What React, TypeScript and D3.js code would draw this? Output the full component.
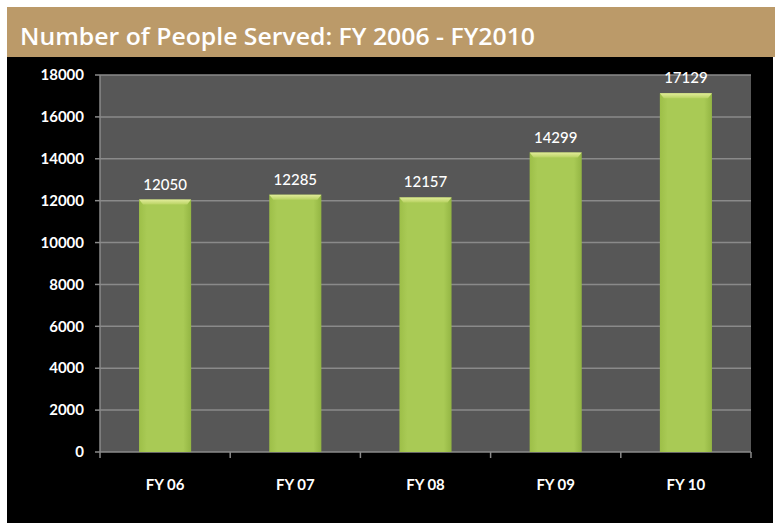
import React from "react";
import * as d3 from "d3";

const categories = ["FY 06", "FY 07", "FY 08", "FY 09", "FY 10"];
const values = [12050, 12285, 12157, 14299, 17129];
const yTicks = [0, 2000, 4000, 6000, 8000, 10000, 12000, 14000, 16000, 18000];
const title = "Number of People Served: FY 2006 - FY2010";

export default function App() {
  const W = 775, H = 523;
  const plot = { left: 100, right: 751, top: 75, bottom: 452 };
  const x = d3.scaleBand<string>().domain(categories).range([plot.left, plot.right]).paddingInner(0.6).paddingOuter(0.3);
  const xb = d3.scaleBand<string>().domain(categories).range([plot.left, plot.right]);
  const y = d3.scaleLinear().domain([0, 18000]).range([plot.bottom, plot.top]);
  const font = "Lato, 'Open Sans', sans-serif";
  return (
    <svg width={W} height={H} style={{ position: "absolute", left: 0, top: 0 }}>
      <defs>
        <linearGradient id="barG" x1="0" x2="1" y1="0" y2="0">
          <stop offset="0" stopColor="#9dbf48" />
          <stop offset="0.15" stopColor="#a9ca55" />
          <stop offset="0.85" stopColor="#a9ca55" />
          <stop offset="1" stopColor="#93b543" />
        </linearGradient>
        <linearGradient id="capG" x1="0" x2="0" y1="0" y2="1">
          <stop offset="0" stopColor="#e2ec9a" />
          <stop offset="1" stopColor="#b8d262" />
        </linearGradient>
      </defs>
      <rect x={0} y={0} width={W} height={H} fill="#ffffff" />
      <rect x={7} y={7} width={W - 7} height={50} fill="#bb9a69" />
      <text x={20} y={44.5} fill="#ffffff" fontFamily="'Open Sans', sans-serif" fontSize={24} fontWeight={600} textLength={515} lengthAdjust="spacingAndGlyphs">{title}</text>
      <rect x={7} y={57} width={766} height={H - 57} fill="#000000" />
      <rect x={plot.left} y={plot.top} width={plot.right - plot.left} height={plot.bottom - plot.top} fill="#575757" />
      {yTicks.map((t) => (
        <g key={t}>
          {t > 0 && <line x1={plot.left} x2={plot.right} y1={y(t)} y2={y(t)} stroke="#8a8a8a" strokeWidth={1.5} />}
          <line x1={plot.left - 5} x2={plot.left} y1={y(t)} y2={y(t)} stroke="#8a8a8a" strokeWidth={1.5} />
          <text x={84} y={y(t)} dy="0.35em" textAnchor="end" fill="#ffffff" fontFamily={font} fontWeight={700} fontSize={15}>{t}</text>
        </g>
      ))}
      <line x1={plot.left} x2={plot.left} y1={plot.top} y2={plot.bottom} stroke="#8a8a8a" strokeWidth={1.5} />
      <line x1={plot.left} x2={plot.right} y1={plot.bottom} y2={plot.bottom} stroke="#8a8a8a" strokeWidth={1.5} />
      {categories.map((c) => (
        <line key={"t" + c} x1={xb(c)! + xb.bandwidth()} x2={xb(c)! + xb.bandwidth()} y1={plot.bottom} y2={plot.bottom + 6} stroke="#8a8a8a" strokeWidth={1.5} />
      ))}
      <line x1={plot.left} x2={plot.left} y1={plot.bottom} y2={plot.bottom + 6} stroke="#8a8a8a" strokeWidth={1.5} />
      {categories.map((c, i) => {
        const bx = x(c)!;
        const bw = x.bandwidth();
        const by = y(values[i]);
        return (
          <g key={c}>
            <rect x={bx} y={by} width={bw} height={plot.bottom - by} fill="url(#barG)" />
            <path d={`M${bx},${by} L${bx + bw},${by} L${bx + bw - 4},${by + 5} L${bx + 4},${by + 5} Z`} fill="url(#capG)" />
            <text x={bx + bw / 2} y={by - 10} textAnchor="middle" fill="#ffffff" fontFamily={font} fontSize={15} fontWeight={500}>{values[i]}</text>
            <text x={xb(c)! + xb.bandwidth() / 2} y={490} textAnchor="middle" fill="#ffffff" fontFamily={font} fontWeight={700} fontSize={15}>{c}</text>
          </g>
        );
      })}
    </svg>
  );
}
